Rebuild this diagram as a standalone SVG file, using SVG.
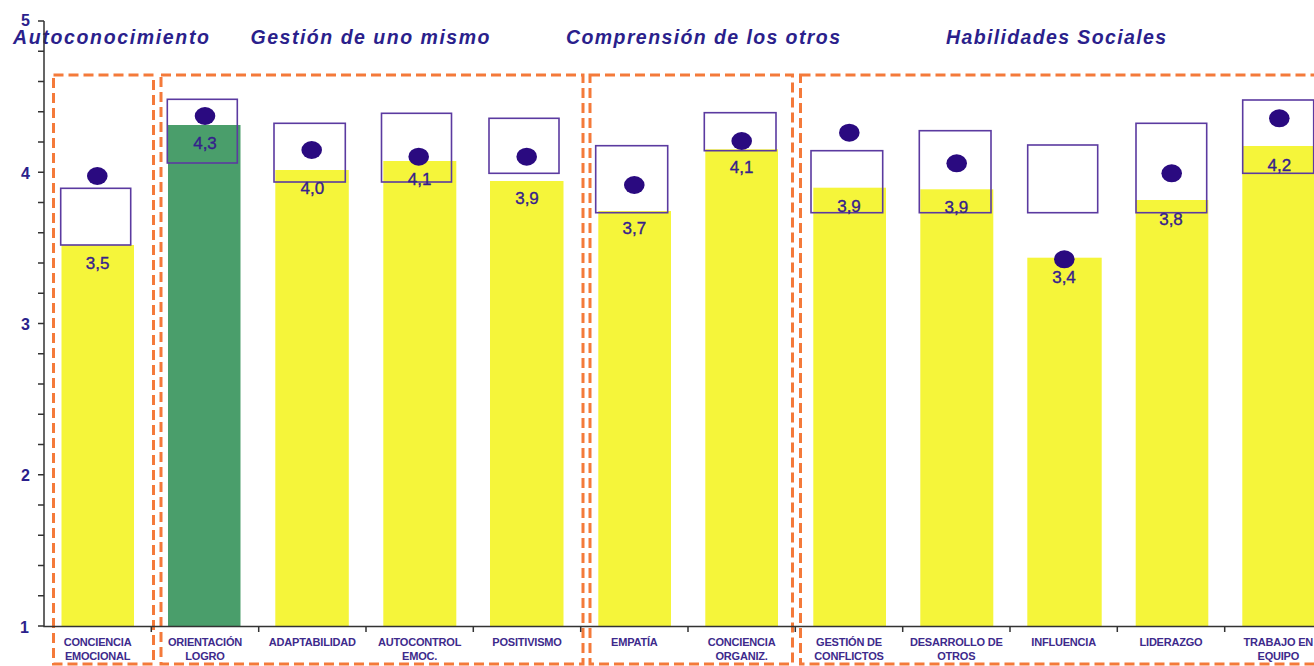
<svg xmlns="http://www.w3.org/2000/svg" width="1314" height="666" viewBox="0 0 1314 666">
<style>
.title{font-family:"Liberation Sans",Arial,sans-serif;font-weight:bold;font-style:italic;font-size:19.5px;fill:#2b1f8c}
.ytick{font-family:"Liberation Sans",Arial,sans-serif;font-weight:bold;font-size:16px;fill:#2b1f8c;text-anchor:end}
.cat{font-family:"Liberation Sans",Arial,sans-serif;font-weight:bold;font-size:11px;fill:#3d2a8c;text-anchor:middle;letter-spacing:-0.2px}
.val{font-family:"Liberation Sans",Arial,sans-serif;font-size:17px;fill:#35208c;stroke:#35208c;stroke-width:0.35;text-anchor:middle}
.bar{fill:#f5f53a}
.green{fill:#4a9e6b}
.box{fill:none;stroke:#5b3aa0;stroke-width:1.6}
.dot{fill:#2a0a80}
.grp{fill:none;stroke:#f47a3a;stroke-width:3;stroke-dasharray:10 5}
.axis{stroke:#333;stroke-width:1.5;fill:none}
</style>

<g id="groups">
<rect class="grp" x="53.5" y="75" width="100" height="589"/>
<rect class="grp" x="161" y="75" width="422" height="589"/>
<rect class="grp" x="590" y="75" width="202.5" height="589"/>
<rect class="grp" x="800.5" y="75" width="540" height="589"/>
</g>

<g id="titles">
<text class="title" x="13" y="43.5" textLength="196" lengthAdjust="spacing">Autoconocimiento</text>
<text class="title" x="250.5" y="43.5" textLength="239" lengthAdjust="spacing">Gestión de uno mismo</text>
<text class="title" x="566" y="43.5" textLength="274" lengthAdjust="spacing">Comprensión de los otros</text>
<text class="title" x="946" y="43.5" textLength="220" lengthAdjust="spacing">Habilidades Sociales</text>
</g>

<g id="bars">
<g id="bar1"><rect class="bar" x="61.5" y="245" width="72.5" height="381"/><rect class="box" x="60.7" y="188.3" width="70" height="56.7"/><ellipse class="dot" cx="97.3" cy="176" rx="10.3" ry="9"/><text class="val" x="97.6" y="269">3,5</text></g>
<g id="bar2"><rect class="green" x="168" y="125" width="72.5" height="501"/><rect class="box" x="167.3" y="99.3" width="70" height="63.7"/><ellipse class="dot" cx="205" cy="116" rx="10.3" ry="9"/><text class="val" x="205" y="149">4,3</text></g>
<g id="bar3"><rect class="bar" x="275.3" y="170" width="73.5" height="456"/><rect class="box" x="274" y="123.3" width="71.3" height="58.7"/><ellipse class="dot" cx="311.7" cy="150" rx="10.3" ry="9"/><text class="val" x="312.3" y="194">4,0</text></g>
<g id="bar4"><rect class="bar" x="383.3" y="161" width="73" height="465"/><rect class="box" x="381.5" y="113.3" width="70" height="68.7"/><ellipse class="dot" cx="418.7" cy="156.7" rx="10.3" ry="9"/><text class="val" x="419.6" y="185">4,1</text></g>
<g id="bar5"><rect class="bar" x="490" y="181" width="73.5" height="445"/><rect class="box" x="489" y="118.3" width="70" height="55"/><ellipse class="dot" cx="526.7" cy="156.7" rx="10.3" ry="9"/><text class="val" x="527" y="204">3,9</text></g>
<g id="bar6"><rect class="bar" x="598.3" y="211" width="72.7" height="415"/><rect class="box" x="595.7" y="145.7" width="72" height="67"/><ellipse class="dot" cx="634.3" cy="185" rx="10.3" ry="9"/><text class="val" x="634.3" y="234">3,7</text></g>
<g id="bar7"><rect class="bar" x="705.3" y="149.3" width="72.7" height="476.7"/><rect class="box" x="704.3" y="112.7" width="71.7" height="38"/><ellipse class="dot" cx="741.7" cy="141" rx="10.3" ry="9"/><text class="val" x="741.6" y="173">4,1</text></g>
<g id="bar8"><rect class="bar" x="813.3" y="187.7" width="72.7" height="438.3"/><rect class="box" x="811" y="150.7" width="71.7" height="62"/><ellipse class="dot" cx="849.3" cy="132.7" rx="10.3" ry="9"/><text class="val" x="849" y="212">3,9</text></g>
<g id="bar9"><rect class="bar" x="920.3" y="189.3" width="73" height="436.7"/><rect class="box" x="919.3" y="130.7" width="71.7" height="82"/><ellipse class="dot" cx="956.7" cy="163.3" rx="10.3" ry="9"/><text class="val" x="956.3" y="213">3,9</text></g>
<g id="bar10"><rect class="bar" x="1027.3" y="257.7" width="74.4" height="368.3"/><rect class="box" x="1027.7" y="145" width="70" height="67.7"/><ellipse class="dot" cx="1064.3" cy="259.3" rx="10.3" ry="9"/><text class="val" x="1064" y="283">3,4</text></g>
<g id="bar11"><rect class="bar" x="1135.7" y="200" width="72.6" height="426"/><rect class="box" x="1136" y="123.3" width="70.7" height="89.4"/><ellipse class="dot" cx="1171.7" cy="173.3" rx="10.3" ry="9"/><text class="val" x="1171" y="225">3,8</text></g>
<g id="bar12"><rect class="bar" x="1242.3" y="146" width="80" height="480"/><rect class="box" x="1242.7" y="100" width="71" height="73.3"/><ellipse class="dot" cx="1279.3" cy="118.3" rx="10.3" ry="9"/><text class="val" x="1279.3" y="171">4,2</text></g>
</g>

<g id="axes">
<path class="axis" d="M44 21V626.5H1314"/>
<path class="axis" d="M38 21H44M38 51.25H44M38 81.5H44M38 111.75H44M38 142H44M38 172.25H44M38 202.5H44M38 232.75H44M38 263H44M38 293.25H44M38 323.5H44M38 353.75H44M38 384H44M38 414.25H44M38 444.5H44M38 474.75H44M38 505H44M38 535.25H44M38 565.5H44M38 595.75H44M38 626H44"/>
<path class="axis" d="M151.3 626.5V632M258.7 626.5V632M366 626.5V632M473.3 626.5V632M580.7 626.5V632M688 626.5V632M795.3 626.5V632M902.7 626.5V632M1010 626.5V632M1117.3 626.5V632M1224.7 626.5V632"/>
<text class="ytick" x="30" y="26">5</text>
<text class="ytick" x="30" y="178.5">4</text>
<text class="ytick" x="30" y="330">3</text>
<text class="ytick" x="30" y="481">2</text>
<text class="ytick" x="29" y="632.5">1</text>
</g>

<g id="labels">
<text class="cat" x="97.6" y="645.5">CONCIENCIA</text><text class="cat" x="97.6" y="660">EMOCIONAL</text>
<text class="cat" x="205" y="645.5">ORIENTACIÓN</text><text class="cat" x="205" y="660">LOGRO</text>
<text class="cat" x="312.3" y="645.5">ADAPTABILIDAD</text>
<text class="cat" x="419.6" y="645.5">AUTOCONTROL</text><text class="cat" x="419.6" y="660">EMOC.</text>
<text class="cat" x="527" y="645.5">POSITIVISMO</text>
<text class="cat" x="634.3" y="645.5">EMPATÍA</text>
<text class="cat" x="741.6" y="645.5">CONCIENCIA</text><text class="cat" x="741.6" y="660">ORGANIZ.</text>
<text class="cat" x="849" y="645.5">GESTIÓN DE</text><text class="cat" x="849" y="660">CONFLICTOS</text>
<text class="cat" x="956.3" y="645.5">DESARROLLO DE</text><text class="cat" x="956.3" y="660">OTROS</text>
<text class="cat" x="1063.6" y="645.5">INFLUENCIA</text>
<text class="cat" x="1171" y="645.5">LIDERAZGO</text>
<text class="cat" x="1278.3" y="645.5">TRABAJO EN</text><text class="cat" x="1278.3" y="660">EQUIPO</text>
</g>
</svg>
